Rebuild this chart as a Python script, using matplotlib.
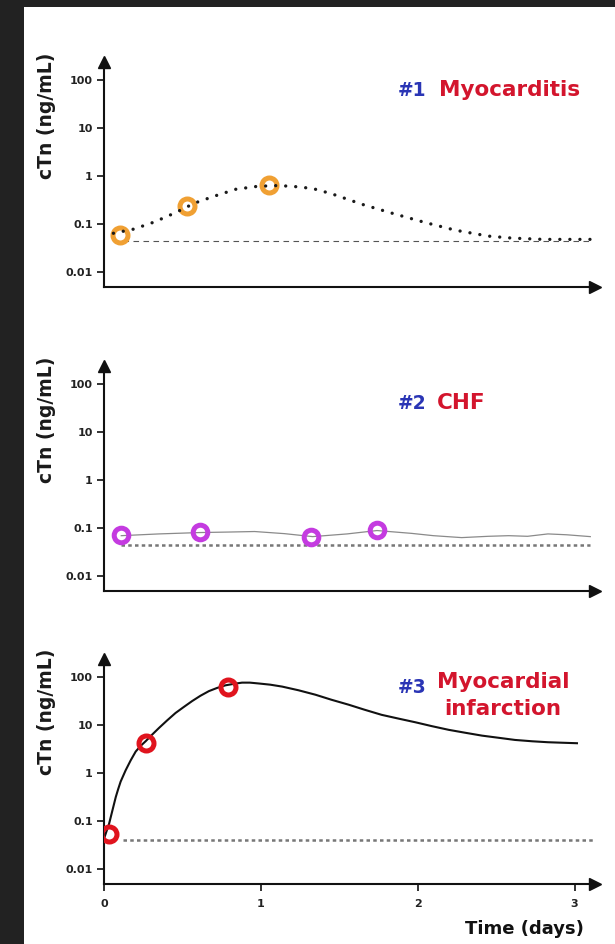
import matplotlib
matplotlib.use("Agg")
import matplotlib.pyplot as plt
from matplotlib.patches import Rectangle

W, H, DPI = 615, 944, 100

# ---------------- data ----------------
ytick_values = [0.01, 0.1, 1, 10, 100]
ytick_labels = ["0.01", "0.1", "1", "10", "100"]
xtick_values = [0, 1, 2, 3]
xtick_labels = ["0", "1", "2", "3"]

# Panel 1: myocarditis
myo_days = [0.10, 0.53, 1.05]
myo_ctn = [0.058, 0.23, 0.65]
myo_curve_days = [0.06, 0.19, 0.32, 0.45, 0.58, 0.71, 0.84, 0.98, 1.10, 1.20,
                  1.33, 1.45, 1.65, 1.85, 2.05, 2.24, 2.45, 2.60, 2.80, 3.10]
myo_curve_ctn = [0.063, 0.077, 0.108, 0.166, 0.27, 0.38, 0.52, 0.60, 0.62, 0.60,
                 0.54, 0.42, 0.25, 0.16, 0.105, 0.073, 0.055, 0.050, 0.047, 0.047]
myo_cutoff = 0.044

# Panel 2: CHF
chf_days = [0.11, 0.61, 1.32, 1.74]
chf_ctn = [0.069, 0.081, 0.064, 0.088]
chf_curve_days = [0.11, 0.35, 0.61, 0.80, 0.96, 1.15, 1.33, 1.55, 1.74, 1.96,
                  2.10, 2.28, 2.45, 2.58, 2.70, 2.83, 2.95, 3.10]
chf_curve_ctn = [0.068, 0.074, 0.079, 0.081, 0.083, 0.075, 0.065, 0.074, 0.087,
                 0.076, 0.068, 0.062, 0.066, 0.068, 0.066, 0.074, 0.071, 0.065]
chf_cutoff = 0.043

# Panel 3: myocardial infarction
mi_days = [0.03, 0.27, 0.79]
mi_ctn = [0.052, 4.1, 62]
mi_curve_days = [0.0, 0.016, 0.032, 0.053, 0.075, 0.09, 0.106, 0.138, 0.17,
                 0.202, 0.233, 0.265, 0.307, 0.35, 0.403, 0.456, 0.51, 0.562,
                 0.615, 0.669, 0.72, 0.775, 0.83, 0.88, 0.93, 0.987, 1.06,
                 1.136, 1.24, 1.348, 1.45, 1.56, 1.66, 1.77, 1.88, 1.985, 2.09,
                 2.197, 2.30, 2.41, 2.52, 2.62, 2.73, 2.83, 2.92, 3.015]
mi_curve_ctn = [0.042, 0.06, 0.085, 0.16, 0.31, 0.45, 0.65, 1.12, 1.8, 2.75,
                3.6, 4.5, 6.2, 8.5, 12.3, 17.5, 23.5, 31, 40, 50, 58, 66, 71,
                75, 75, 72, 68, 62, 52, 42, 33, 26, 20.5, 16, 13.3, 11.2, 9.3,
                7.8, 6.8, 5.9, 5.3, 4.8, 4.5, 4.3, 4.2, 4.1]
mi_cutoff = 0.040

# ---------------- figure ----------------
fig = plt.figure(figsize=(W / DPI, H / DPI), dpi=DPI, facecolor="#222222")


def fx(x):
    return x / W


def fy(y):
    return 1 - y / H


fig.add_artist(Rectangle((fx(24), 0), 1 - fx(24), fy(7), transform=fig.transFigure,
                         facecolor="white", edgecolor="none", zorder=-10))

YLIM = (10 ** -2.32, 10 ** 2.36)
XLIM = (0, 3.13)
AX_L, AX_R = 104, 595
DEC = 48.0
span_px = (2.36 + 2.32) * DEC

BLUE = "#2a35b5"
RED = "#d3152d"


def make_axes(y_bottom, show_x):
    ax = fig.add_axes([fx(AX_L), fy(y_bottom), (AX_R - AX_L) / W, span_px / H])
    ax.set_facecolor("none")
    ax.set_yscale("log")
    ax.set_ylim(*YLIM)
    ax.set_xlim(*XLIM)
    for s in ("top", "right"):
        ax.spines[s].set_visible(False)
    for s in ("left", "bottom"):
        ax.spines[s].set_linewidth(1.5)
        ax.spines[s].set_color("#111111")
    ax.set_yticks(ytick_values)
    ax.set_yticklabels(ytick_labels)
    ax.yaxis.set_minor_locator(matplotlib.ticker.NullLocator())
    ax.tick_params(axis="y", length=5, width=1.3, pad=3, labelsize=8,
                   colors="#222222")
    for lab in ax.get_yticklabels():
        lab.set_fontweight("bold")
    if show_x:
        ax.set_xticks(xtick_values)
        ax.set_xticklabels(xtick_labels)
        ax.tick_params(axis="x", length=5, width=1.3, pad=6, labelsize=8,
                       colors="#222222")
        for lab in ax.get_xticklabels():
            lab.set_fontweight("bold")
    else:
        ax.set_xticks([])
    # arrow heads
    ax.plot(1, 0, ">", color="#111111", markersize=8, transform=ax.transAxes,
            clip_on=False)
    ax.plot(0, 1, "^", color="#111111", markersize=8, transform=ax.transAxes,
            clip_on=False)
    return ax


# Panel 1
ax1 = make_axes(287, False)
ax1.plot([0.06, 3.10], [myo_cutoff, myo_cutoff], color="#555555", lw=0.8,
         dashes=(5, 4), zorder=1)
ax1.plot(myo_days, myo_ctn, "o", mfc="none", mec="#f0a033", ms=10.8, mew=3.6,
         zorder=2)
ax1.plot(myo_curve_days, myo_curve_ctn, color="#1a1a1a", lw=2.4,
         dashes=(0.01, 3.0), dash_capstyle="round", zorder=3)

# Panel 2
ax2 = make_axes(591, False)
ax2.plot([0.11, 3.10], [chf_cutoff, chf_cutoff], color="#777777", lw=1.8,
         dashes=(1.4, 1.3), zorder=1)
ax2.plot(chf_curve_days, chf_curve_ctn, color="#8a8a8a", lw=0.9, zorder=2)
ax2.plot(chf_days, chf_ctn, "o", mfc="none", mec="#c43be0", ms=10.5, mew=3.6,
         zorder=3)

# Panel 3
ax3 = make_axes(884, True)
ax3.plot([0.12, 3.12], [mi_cutoff, mi_cutoff], color="#777777", lw=1.8,
         dashes=(1.4, 1.3), zorder=1)
ax3.plot(mi_curve_days, mi_curve_ctn, color="#111111", lw=1.5, zorder=2,
         solid_joinstyle="round")
ax3.plot(mi_days, mi_ctn, "o", mfc="none", mec="#e0141e", ms=10.8, mew=3.6,
         zorder=3)

# y labels
for yc in (116, 420, 712):
    fig.text(fx(46), fy(yc), "cTn (ng/mL)", rotation=90, ha="center",
             va="center", fontsize=13.5, fontweight="bold", color="#1a1a1a")

# panel titles
fig.text(fx(398), fy(96), "#1", color=BLUE, fontsize=13.5, fontweight="bold",
         ha="left", va="baseline")
fig.text(fx(439), fy(96), "Myocarditis", color=RED, fontsize=15.5,
         fontweight="bold", ha="left", va="baseline")
fig.text(fx(398), fy(409), "#2", color=BLUE, fontsize=13.5, fontweight="bold",
         ha="left", va="baseline")
fig.text(fx(437), fy(409), "CHF", color=RED, fontsize=15.5, fontweight="bold",
         ha="left", va="baseline")
fig.text(fx(398), fy(693), "#3", color=BLUE, fontsize=13.5, fontweight="bold",
         ha="left", va="baseline")
fig.text(fx(503), fy(688), "Myocardial", color=RED, fontsize=15.5,
         fontweight="bold", ha="center", va="baseline")
fig.text(fx(503), fy(715), "infarction", color=RED, fontsize=15.5,
         fontweight="bold", ha="center", va="baseline")

fig.text(fx(584), fy(934), "Time (days)", color="#111111", fontsize=13,
         fontweight="bold", ha="right", va="baseline")

fig.savefig("out.png", dpi=DPI, facecolor=fig.get_facecolor())
